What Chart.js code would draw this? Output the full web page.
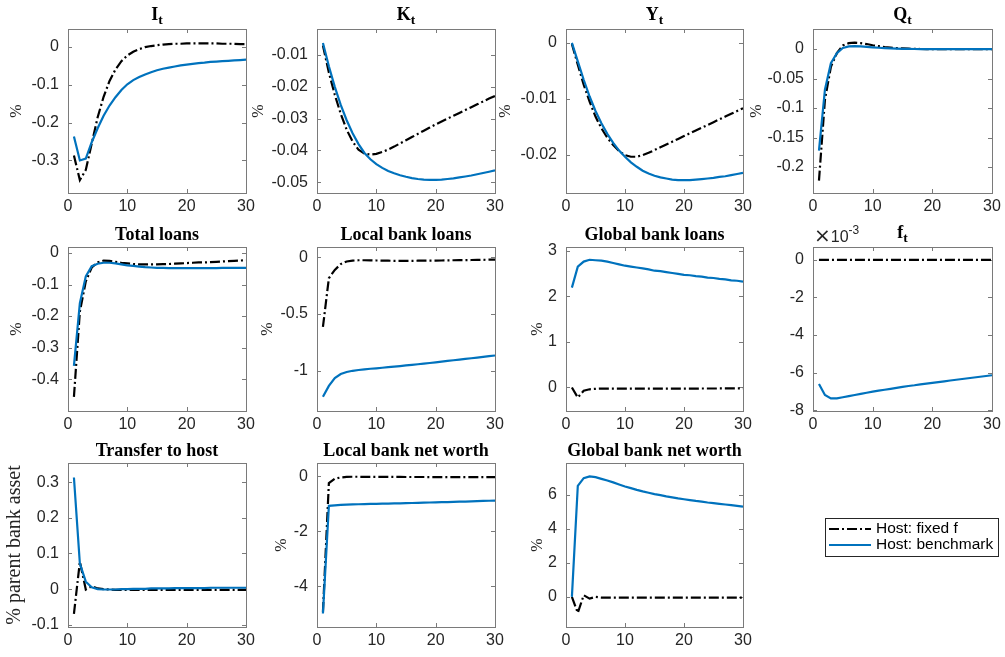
<!DOCTYPE html>
<html><head><meta charset="utf-8">
<script src="https://cdn.jsdelivr.net/npm/chart.js@4.4.1/dist/chart.umd.min.js"></script>
<style>
html,body{margin:0;padding:0;background:#fff;}
body{width:1005px;height:657px;position:relative;overflow:hidden;}
canvas{position:absolute;}
</style></head><body>
<script>
// ---------------- data ----------------
const periods = [1,2,3,4,5,6,7,8,9,10,11,12,13,14,15,16,17,18,19,20,21,22,23,24,25,26,27,28,29,30];
const seriesNames = ['Host: fixed f', 'Host: benchmark'];
const xTicks = [0, 10, 20, 30];

// I_t
const invFixed = [-0.287,-0.352,-0.325,-0.255,-0.186,-0.132,-0.090,-0.060,-0.038,-0.023,-0.013,-0.006,-0.001,0.002,0.004,0.006,0.007,0.008,0.008,0.009,0.009,0.009,0.009,0.009,0.009,0.008,0.008,0.008,0.007,0.007];
const invBench = [-0.237,-0.300,-0.295,-0.252,-0.215,-0.182,-0.155,-0.133,-0.114,-0.099,-0.088,-0.080,-0.073,-0.067,-0.062,-0.058,-0.055,-0.052,-0.049,-0.047,-0.045,-0.043,-0.042,-0.040,-0.039,-0.038,-0.037,-0.036,-0.035,-0.034];
const invTicks = [-0.3,-0.2,-0.1,0];
const invTickLabels = ['-0.3','-0.2','-0.1','0'];

// K_t
const capFixed = [-0.0070,-0.0155,-0.0225,-0.0285,-0.0335,-0.0372,-0.0398,-0.0410,-0.0413,-0.0411,-0.0405,-0.0397,-0.0388,-0.0378,-0.0368,-0.0358,-0.0348,-0.0338,-0.0328,-0.0318,-0.0309,-0.0300,-0.0291,-0.0282,-0.0273,-0.0264,-0.0255,-0.0246,-0.0237,-0.0229];
const capBench = [-0.0062,-0.0135,-0.0200,-0.0257,-0.0305,-0.0346,-0.0380,-0.0408,-0.0428,-0.0443,-0.0455,-0.0465,-0.0472,-0.0478,-0.0483,-0.0487,-0.0490,-0.0492,-0.0493,-0.0493,-0.0492,-0.0490,-0.0488,-0.0485,-0.0482,-0.0479,-0.0475,-0.0471,-0.0467,-0.0463];
const capTicks = [-0.05,-0.04,-0.03,-0.02,-0.01];
const capTickLabels = ['-0.05','-0.04','-0.03','-0.02','-0.01'];

// Y_t
const outFixed = [-0.0002,-0.0039,-0.0075,-0.0105,-0.0132,-0.0153,-0.0170,-0.0183,-0.0194,-0.0201,-0.0204,-0.0204,-0.0201,-0.0197,-0.0192,-0.0187,-0.0182,-0.0177,-0.0172,-0.0167,-0.0162,-0.0157,-0.0152,-0.0147,-0.0142,-0.0137,-0.0132,-0.0127,-0.0122,-0.0117];
const outBench = [0,-0.0033,-0.0066,-0.0096,-0.0122,-0.0144,-0.0163,-0.0179,-0.0193,-0.0204,-0.0214,-0.0222,-0.0229,-0.0234,-0.0238,-0.0241,-0.0243,-0.0245,-0.0246,-0.0246,-0.0246,-0.0245,-0.0244,-0.0243,-0.0242,-0.0240,-0.0239,-0.0237,-0.0235,-0.0233];
const outTicks = [-0.02,-0.01,0];
const outTickLabels = ['-0.02','-0.01','0'];

// Q_t
const qFixed = [-0.223,-0.086,-0.030,-0.007,0.006,0.010,0.011,0.010,0.0085,0.0065,0.005,0.0035,0.0025,0.0017,0.0011,0.0006,0.0003,0.0001,0,0,0,0,0,0,0,0,0,0,0,0];
const qBench = [-0.172,-0.069,-0.024,-0.007,0.002,0.0045,0.005,0.0045,0.0038,0.003,0.0022,0.0015,0.001,0.0006,0.0003,0.0002,0.0001,0,0,0,0,0,0,0,0,0,0,0,0,0];
const qTicks = [-0.2,-0.15,-0.1,-0.05,0];
const qTickLabels = ['-0.2','-0.15','-0.1','-0.05','0'];

// Total loans
const totFixed = [-0.456,-0.186,-0.090,-0.046,-0.030,-0.024,-0.025,-0.028,-0.031,-0.033,-0.035,-0.036,-0.036,-0.036,-0.036,-0.035,-0.035,-0.034,-0.033,-0.032,-0.031,-0.030,-0.030,-0.029,-0.028,-0.027,-0.026,-0.025,-0.024,-0.023];
const totBench = [-0.358,-0.159,-0.074,-0.042,-0.034,-0.031,-0.031,-0.033,-0.036,-0.039,-0.041,-0.043,-0.045,-0.046,-0.047,-0.047,-0.048,-0.048,-0.048,-0.048,-0.048,-0.048,-0.048,-0.048,-0.048,-0.047,-0.047,-0.047,-0.047,-0.047];
const totTicks = [-0.4,-0.3,-0.2,-0.1,0];
const totTickLabels = ['-0.4','-0.3','-0.2','-0.1','0'];

// Local bank loans
const locFixed = [-0.614,-0.184,-0.110,-0.059,-0.036,-0.028,-0.025,-0.025,-0.026,-0.027,-0.028,-0.029,-0.030,-0.030,-0.030,-0.030,-0.029,-0.029,-0.028,-0.028,-0.027,-0.026,-0.025,-0.024,-0.024,-0.023,-0.022,-0.021,-0.020,-0.019];
const locBench = [-1.231,-1.134,-1.065,-1.030,-1.012,-1.001,-0.994,-0.988,-0.983,-0.979,-0.974,-0.969,-0.964,-0.959,-0.954,-0.949,-0.943,-0.937,-0.932,-0.926,-0.920,-0.914,-0.908,-0.902,-0.896,-0.890,-0.884,-0.878,-0.872,-0.866];
const locTicks = [-1,-0.5,0];
const locTickLabels = ['-1','-0.5','0'];

// Global bank loans
const gloFixed = [0.0,-0.22,-0.07,-0.04,-0.03,-0.025,-0.025,-0.025,-0.025,-0.025,-0.025,-0.025,-0.025,-0.025,-0.025,-0.025,-0.025,-0.025,-0.025,-0.024,-0.024,-0.024,-0.023,-0.023,-0.023,-0.022,-0.022,-0.021,-0.021,-0.020];
const gloBench = [2.19,2.65,2.76,2.80,2.79,2.78,2.76,2.73,2.70,2.67,2.65,2.63,2.61,2.59,2.56,2.55,2.53,2.51,2.49,2.47,2.46,2.44,2.43,2.41,2.40,2.38,2.37,2.35,2.34,2.32];
const gloTicks = [0,1,2,3];
const gloTickLabels = ['0','1','2','3'];

// f_t
const fFixed = [0,0,0,0,0,0,0,0,0,0,0,0,0,0,0,0,0,0,0,0,0,0,0,0,0,0,0,0,0,0];
const fBench = [-0.00660,-0.00719,-0.00737,-0.00737,-0.00731,-0.00725,-0.00719,-0.00713,-0.00707,-0.00701,-0.00696,-0.00691,-0.00686,-0.00681,-0.00676,-0.00671,-0.00667,-0.00662,-0.00658,-0.00654,-0.00650,-0.00646,-0.00642,-0.00638,-0.00634,-0.00630,-0.00626,-0.00622,-0.00618,-0.00614];
const fTicks = [-0.008,-0.006,-0.004,-0.002,0];
const fTickLabels = ['-8','-6','-4','-2','0'];
const fExponent = ['\u00d7', '10', '-3'];

// Transfer to host
const trFixed = [-0.069,0.077,-0.001,0.008,0.002,0.000,-0.001,-0.002,-0.002,-0.002,-0.002,-0.002,-0.002,-0.002,-0.002,-0.002,-0.002,-0.002,-0.002,-0.002,-0.002,-0.002,-0.002,-0.002,-0.002,-0.002,-0.002,-0.002,-0.002,-0.002];
const trBench = [0.313,0.072,0.021,0.005,0.000,-0.001,-0.001,-0.001,0.000,0.000,0.001,0.001,0.001,0.002,0.002,0.002,0.002,0.003,0.003,0.003,0.003,0.003,0.003,0.004,0.004,0.004,0.004,0.004,0.004,0.004];
const trTicks = [-0.1,0,0.1,0.2,0.3];
const trTickLabels = ['-0.1','0','0.1','0.2','0.3'];

// Local bank net worth
const lnwFixed = [-4.94,-0.244,-0.085,-0.037,-0.015,-0.012,-0.012,-0.013,-0.014,-0.015,-0.016,-0.017,-0.018,-0.019,-0.020,-0.020,-0.021,-0.021,-0.022,-0.022,-0.023,-0.023,-0.023,-0.024,-0.024,-0.024,-0.024,-0.024,-0.024,-0.024];
const lnwBench = [-5.00,-1.073,-1.055,-1.040,-1.030,-1.022,-1.015,-1.009,-1.004,-0.999,-0.994,-0.989,-0.984,-0.979,-0.974,-0.968,-0.963,-0.957,-0.951,-0.945,-0.939,-0.933,-0.927,-0.921,-0.915,-0.908,-0.901,-0.894,-0.887,-0.880];
const lnwTicks = [-4,-2,0];
const lnwTickLabels = ['-4','-2','0'];

// Global bank net worth
const gnwFixed = [0,-0.94,0.10,-0.10,0.0,-0.04,-0.04,-0.04,-0.04,-0.04,-0.04,-0.04,-0.04,-0.04,-0.04,-0.04,-0.04,-0.04,-0.04,-0.04,-0.04,-0.04,-0.04,-0.04,-0.04,-0.04,-0.04,-0.04,-0.04,-0.04];
const gnwBench = [0,6.53,6.98,7.08,7.04,6.94,6.84,6.73,6.61,6.49,6.39,6.29,6.20,6.12,6.04,5.98,5.91,5.85,5.79,5.74,5.69,5.64,5.60,5.55,5.51,5.47,5.43,5.39,5.35,5.31];
const gnwTicks = [0,2,4,6];
const gnwTickLabels = ['0','2','4','6'];

// ---------------- layout / style ----------------
const COLS = [[68,246],[317,495],[566,743],[813,992]];
const ROWS = [[29,193],[247,411],[463,627]];
const TICK_FONT = {family:'"Liberation Sans", Arial, sans-serif', size:16};
const AX_COLOR = '#262626';
const FIXED_STYLE = {borderColor:'#000000', borderWidth:2.2, borderDash:[10,3,2,3]};
const BENCH_STYLE = {borderColor:'#0072BD', borderWidth:2.2, borderDash:[]};

const panels = [
 {r:0,c:0,title:'I',sub:'t',ylabel:'%',yw:61,ylim:[-0.386,0.047],ticks:invTicks,labels:invTickLabels,fixed:invFixed,bench:invBench},
 {r:0,c:1,title:'K',sub:'t',ylabel:'%',yw:68,ylim:[-0.0534,-0.0018],ticks:capTicks,labels:capTickLabels,fixed:capFixed,bench:capBench},
 {r:0,c:2,title:'Y',sub:'t',ylabel:'%',yw:70,ylim:[-0.0269,0.0025],ticks:outTicks,labels:outTickLabels,fixed:outFixed,bench:outBench},
 {r:0,c:3,title:'Q',sub:'t',ylabel:'%',yw:66,ylim:[-0.244,0.034],ticks:qTicks,labels:qTickLabels,fixed:qFixed,bench:qBench},
 {r:1,c:0,title:'Total loans',ylabel:'%',yw:61,ylim:[-0.501,0.019],ticks:totTicks,labels:totTickLabels,fixed:totFixed,bench:totBench},
 {r:1,c:1,title:'Local bank loans',ylabel:'%',yw:59,ylim:[-1.356,0.092],ticks:locTicks,labels:locTickLabels,fixed:locFixed,bench:locBench},
 {r:1,c:2,title:'Global bank loans',ylabel:'%',yw:38,ylim:[-0.516,3.08],ticks:gloTicks,labels:gloTickLabels,fixed:gloFixed,bench:gloBench},
 {r:1,c:3,title:'f',sub:'t',ylabel:'',yw:40,ylim:[-0.00804,0.00068],ticks:fTicks,labels:fTickLabels,fixed:fFixed,bench:fBench,exp:fExponent},
 {r:2,c:0,title:'Transfer to host',ylabel:'% parent bank asset',ylabelSize:20,yw:65,ylim:[-0.106,0.3535],ticks:trTicks,labels:trTickLabels,fixed:trFixed,bench:trBench},
 {r:2,c:1,title:'Local bank net worth',ylabel:'%',yw:45,ylim:[-5.49,0.49],ticks:lnwTicks,labels:lnwTickLabels,fixed:lnwFixed,bench:lnwBench},
 {r:2,c:2,title:'Global bank net worth',ylabel:'%',yw:38,ylim:[-1.77,7.87],ticks:gnwTicks,labels:gnwTickLabels,fixed:gnwFixed,bench:gnwBench}
];

const decoPlugin = {
  id: 'deco',
  beforeDatasetsDraw(chart, args, opts) {
    const {ctx, chartArea: a, scales} = chart;
    ctx.save();
    ctx.strokeStyle = '#7a7a7a';
    ctx.lineWidth = 1;
    ctx.setLineDash([]);
    ctx.strokeRect(a.left + 0.5, a.top + 0.5, a.right - a.left, a.bottom - a.top);
    const tl = 4;
    ctx.beginPath();
    scales.x.ticks.forEach(t => {
      const px = Math.round(scales.x.getPixelForValue(t.value)) + 0.5;
      ctx.moveTo(px, a.bottom); ctx.lineTo(px, a.bottom - tl);
      ctx.moveTo(px, a.top); ctx.lineTo(px, a.top + tl);
    });
    scales.y.ticks.forEach(t => {
      const py = Math.round(scales.y.getPixelForValue(t.value)) + 0.5;
      ctx.moveTo(a.left, py); ctx.lineTo(a.left + tl, py);
      ctx.moveTo(a.right, py); ctx.lineTo(a.right - tl, py);
    });
    ctx.stroke();
    ctx.restore();
  },
  afterDraw(chart, args, opts) {
    const {ctx, chartArea: a} = chart;
    ctx.save();
    if (opts.title) {
      const mainFont = 'bold 18px "Liberation Serif", "Times New Roman", serif';
      const subFont = 'bold 13.5px "Liberation Serif", "Times New Roman", serif';
      ctx.font = mainFont;
      const mw = ctx.measureText(opts.title).width;
      let sw = 0;
      if (opts.sub) { ctx.font = subFont; sw = ctx.measureText(opts.sub).width; }
      const cx = (a.left + a.right) / 2;
      const x0 = cx - (mw + sw) / 2;
      const base = opts.sub ? a.top - 9 : a.top - 7;
      ctx.fillStyle = '#000';
      ctx.textAlign = 'left';
      ctx.textBaseline = 'alphabetic';
      ctx.font = mainFont;
      ctx.fillText(opts.title, x0, base);
      if (opts.sub) { ctx.font = subFont; ctx.fillText(opts.sub, x0 + mw, base + 4); }
    }
    if (opts.exp) {
      ctx.fillStyle = AX_COLOR;
      ctx.textAlign = 'left';
      ctx.textBaseline = 'alphabetic';
      let x = a.left + 1;
      ctx.font = '20px "DejaVu Sans", "Liberation Sans", sans-serif';
      ctx.fillText(opts.exp[0], x, a.top - 5);
      x += ctx.measureText(opts.exp[0]).width;
      ctx.font = '16px "Liberation Sans", Arial, sans-serif';
      ctx.fillText(opts.exp[1], x, a.top - 5);
      x += ctx.measureText(opts.exp[1]).width;
      ctx.font = '12px "Liberation Sans", Arial, sans-serif';
      ctx.fillText(opts.exp[2], x, a.top - 13);
    }
    ctx.restore();
  }
};

const PADL = 80, PADT = 34, PADR = 16, XH = 30;

function makePanel(p) {
  const [L, R] = COLS[p.c], [T, B] = ROWS[p.r];
  const W = R - L, H = B - T;
  const cw = W + PADL + PADR, ch = H + PADT + XH;
  const c = document.createElement('canvas');
  c.width = cw; c.height = ch;
  c.style.left = (L - PADL) + 'px'; c.style.top = (T - PADT) + 'px';
  c.style.width = cw + 'px'; c.style.height = ch + 'px';
  document.body.appendChild(c);
  new Chart(c, {
    type: 'line',
    data: {
      datasets: [
        Object.assign({label: seriesNames[0], data: periods.map((x, i) => ({x: x, y: p.fixed[i]})), pointRadius: 0, tension: 0, order: 1}, FIXED_STYLE),
        Object.assign({label: seriesNames[1], data: periods.map((x, i) => ({x: x, y: p.bench[i]})), pointRadius: 0, tension: 0, order: 0}, BENCH_STYLE)
      ]
    },
    options: {
      responsive: false, animation: false, devicePixelRatio: 1,
      layout: {padding: {left: PADL - p.yw, top: PADT, right: PADR, bottom: 0}},
      plugins: {
        legend: {display: false}, tooltip: {enabled: false},
        deco: {title: p.title, sub: p.sub, exp: p.exp}
      },
      scales: {
        x: {
          type: 'linear', min: 0, max: 30, bounds: 'data',
          afterBuildTicks: s => { s.ticks = xTicks.map(v => ({value: v})); },
          ticks: {font: TICK_FONT, color: AX_COLOR, padding: 4, maxRotation: 0, autoSkip: false, callback: v => String(v)},
          grid: {display: false, drawTicks: false}, border: {display: false},
          afterFit: s => { s.height = XH; }
        },
        y: {
          type: 'linear', min: p.ylim[0], max: p.ylim[1], bounds: 'data',
          afterBuildTicks: s => { s.ticks = p.ticks.map(v => ({value: v})); },
          ticks: {font: TICK_FONT, color: AX_COLOR, padding: 9, autoSkip: false,
                  callback: v => { const i = p.ticks.findIndex(t => Math.abs(t - v) < 1e-12); return i >= 0 ? p.labels[i] : ''; }},
          grid: {display: false, drawTicks: false}, border: {display: false},
          title: {display: !!p.ylabel, text: p.ylabel, color: AX_COLOR, padding: 0,
                  font: {family: '"Liberation Serif", "Times New Roman", serif', size: p.ylabelSize || 16}},
          afterFit: s => { s.width = p.yw; }
        }
      }
    },
    plugins: [decoPlugin]
  });
}
panels.forEach(makePanel);

// ---------------- legend ----------------
const legendPlugin = {
  id: 'boxLegend',
  afterDraw(chart) {
    const ctx = chart.ctx;
    const bx = 25, by = 18, bw = 173, bh = 38;
    ctx.save();
    ctx.fillStyle = '#fff';
    ctx.fillRect(bx, by, bw, bh);
    ctx.strokeStyle = '#262626'; ctx.lineWidth = 1; ctx.setLineDash([]);
    ctx.strokeRect(bx + 0.5, by + 0.5, bw, bh);
    chart.data.datasets.forEach((ds, i) => {
      const y = by + 11 + i * 16;
      ctx.strokeStyle = ds.borderColor; ctx.lineWidth = ds.borderWidth;
      ctx.setLineDash(ds.borderDash || []);
      ctx.beginPath(); ctx.moveTo(bx + 4, y); ctx.lineTo(bx + 46, y); ctx.stroke();
      ctx.setLineDash([]);
      ctx.fillStyle = '#000';
      ctx.font = '15.5px "Liberation Sans", Arial, sans-serif';
      ctx.textBaseline = 'middle'; ctx.textAlign = 'left';
      ctx.fillText(ds.label, bx + 51, y);
    });
    ctx.restore();
  }
};
(function () {
  const c = document.createElement('canvas');
  c.width = 205; c.height = 70;
  c.style.left = '800px'; c.style.top = '500px';
  c.style.width = '205px'; c.style.height = '70px';
  document.body.appendChild(c);
  new Chart(c, {
    type: 'line',
    data: {datasets: [
      Object.assign({label: seriesNames[0], data: []}, FIXED_STYLE),
      Object.assign({label: seriesNames[1], data: []}, BENCH_STYLE)
    ]},
    options: {
      responsive: false, animation: false, devicePixelRatio: 1,
      plugins: {legend: {display: false}, tooltip: {enabled: false}},
      scales: {x: {display: false}, y: {display: false}}
    },
    plugins: [legendPlugin]
  });
})();
</script>
</body></html>
